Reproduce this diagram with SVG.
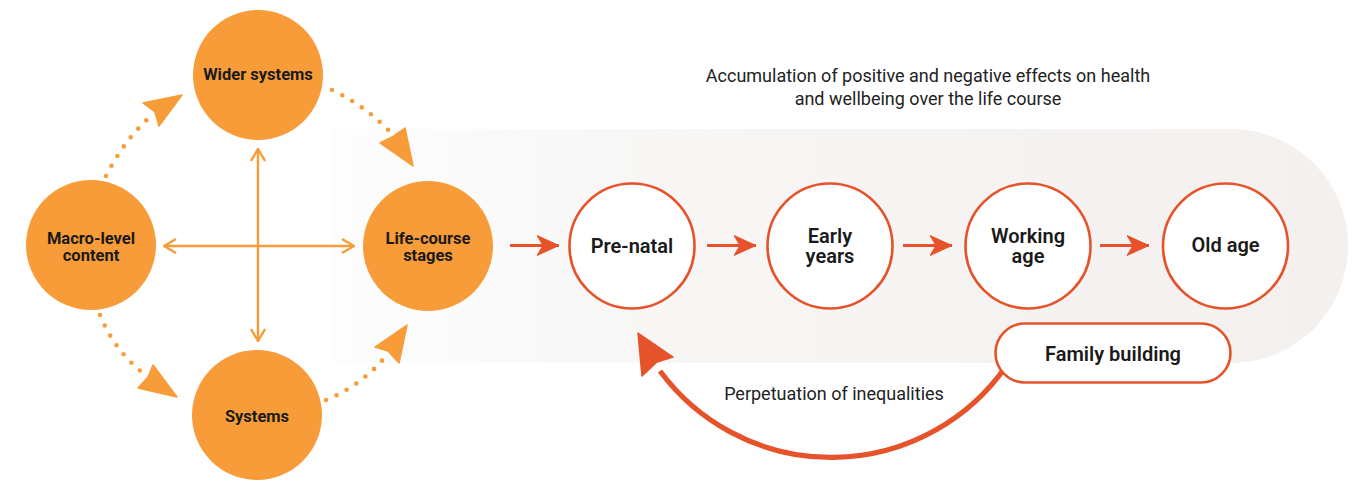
<svg xmlns="http://www.w3.org/2000/svg" width="1364" height="482" viewBox="0 0 1364 482">
  <defs>
    <linearGradient id="bandFill" x1="333" y1="0" x2="1348" y2="0" gradientUnits="userSpaceOnUse">
      <stop offset="0" stop-color="#fdfdfd"/>
      <stop offset="0.3" stop-color="#f8f7f6"/>
      <stop offset="1" stop-color="#f3f0ee"/>
    </linearGradient>
    <marker id="chevron" viewBox="0 0 14 16" refX="13" refY="8" markerWidth="14" markerHeight="16" markerUnits="userSpaceOnUse" orient="auto-start-reverse">
      <path d="M1,1 L13,8 L1,15" fill="none" stroke="#f79c38" stroke-width="2.4" stroke-linejoin="miter"/>
    </marker>
    <marker id="redHead" viewBox="0 0 24 22" refX="22" refY="11" markerWidth="24" markerHeight="22" markerUnits="userSpaceOnUse" orient="auto">
      <path d="M0,1 L22,11 L0,21 L6,11 Z" fill="#e6532a" stroke="#e6532a" stroke-width="1" stroke-linejoin="round"/>
    </marker>
  </defs>
  <style>
    .txt { font-family: Roboto, "Liberation Sans", sans-serif; fill: #1a1a1a; }
    .stage { fill: #f79c38; }
    .life { fill: #ffffff; stroke: #e6532a; stroke-width: 2.6; }
    .lbl-s { font-size: 16.5px; font-weight: 700; text-anchor: middle; }
    .lbl-l { font-size: 20px; font-weight: 600; text-anchor: middle; }
    .note { font-size: 18px; font-weight: 400; text-anchor: middle; fill: #222; }
    .dots { fill: none; stroke: #f79c38; stroke-width: 4.6; stroke-linecap: round; stroke-dasharray: 0 11.5; }
    .dart { fill: #f79c38; stroke: #f79c38; stroke-width: 1.5; stroke-linejoin: round; }
    .cross { fill: none; stroke: #f79c38; stroke-width: 2.4; }
    .flow { fill: none; stroke: #e6532a; stroke-width: 3.2; }
  </style>

  <rect width="1364" height="482" fill="#ffffff"/>

  <!-- pale band behind the life course -->
  <path d="M333,129 H1231 A117,117 0 0 1 1231,363 H333 Z" fill="url(#bandFill)"/>

  <text class="txt note" x="928" y="82">Accumulation of positive and negative effects on health</text>
  <text class="txt note" x="928" y="105">and wellbeing over the life course</text>

  <!-- connectors -->
  <g id="connectors">
    <!-- cross between the four system circles -->
    <line class="cross" x1="258" y1="149" x2="258" y2="341" marker-start="url(#chevron)" marker-end="url(#chevron)"/>
    <line class="cross" x1="164" y1="246" x2="354" y2="246" marker-start="url(#chevron)" marker-end="url(#chevron)"/>

    <!-- dotted loop around the circles -->
    <path class="dots" d="M106,176 Q124,140 151,116"/>
    <path class="dart" d="M182,95 L143,103 L155,112 L159,126 Z"/>

    <path class="dots" d="M332,90 Q366,106 392,134"/>
    <path class="dart" d="M413,166 L380,143 L392,137 L405,128 Z"/>

    <path class="dots" d="M100,315 Q114,350 144,374"/>
    <path class="dart" d="M177,397 L138,388 L148,377 L153,365 Z"/>

    <path class="dots" d="M326,400 Q362,385 386,356"/>
    <path class="dart" d="M407,325 L375,347 L388,351 L399,363 Z"/>

    <!-- life course flow -->
    <line class="flow" x1="510" y1="245.5" x2="559" y2="245.5" marker-end="url(#redHead)"/>
    <line class="flow" x1="707" y1="245.5" x2="756" y2="245.5" marker-end="url(#redHead)"/>
    <line class="flow" x1="903" y1="245.5" x2="952" y2="245.5" marker-end="url(#redHead)"/>
    <line class="flow" x1="1100" y1="245.5" x2="1149" y2="245.5" marker-end="url(#redHead)"/>

    <!-- feedback arc from family building back to pre-natal -->
    <path d="M1005.5,367 A213,213 0 0 1 660,371" fill="none" stroke="#e6532a" stroke-width="5.2"/>
    <path d="M638,333 L673,357 L657,362 L642,376 Z" fill="#e6532a" stroke="#e6532a" stroke-width="1.5" stroke-linejoin="round"/>
    <text class="txt note" x="834" y="400">Perpetuation of inequalities</text>
  </g>

  <g id="wider-systems">
    <circle class="stage" cx="258" cy="75" r="65"/>
    <text class="txt lbl-s" x="258" y="80">Wider systems</text>
  </g>
  <g id="macro-level-content">
    <circle class="stage" cx="91" cy="245" r="65"/>
    <text class="txt lbl-s" x="91" y="244">Macro-level</text>
    <text class="txt lbl-s" x="91" y="261">content</text>
  </g>
  <g id="life-course-stages">
    <circle class="stage" cx="428" cy="246" r="65"/>
    <text class="txt lbl-s" x="428" y="244">Life-course</text>
    <text class="txt lbl-s" x="428" y="261">stages</text>
  </g>
  <g id="systems">
    <circle class="stage" cx="257" cy="415" r="65"/>
    <text class="txt lbl-s" x="257" y="422">Systems</text>
  </g>

  <g id="pre-natal">
    <circle class="life" cx="632" cy="246" r="62.5"/>
    <text class="txt lbl-l" x="632" y="253">Pre-natal</text>
  </g>
  <g id="early-years">
    <circle class="life" cx="830" cy="246" r="62.5"/>
    <text class="txt lbl-l" x="830" y="243">Early</text>
    <text class="txt lbl-l" x="830" y="263">years</text>
  </g>
  <g id="working-age">
    <circle class="life" cx="1028" cy="246" r="62.5"/>
    <text class="txt lbl-l" x="1028" y="243">Working</text>
    <text class="txt lbl-l" x="1028" y="263">age</text>
  </g>
  <g id="old-age">
    <circle class="life" cx="1225.5" cy="246" r="62.5"/>
    <text class="txt lbl-l" x="1225.5" y="252">Old age</text>
  </g>
  <g id="family-building">
    <rect class="life" x="995.5" y="323.5" width="235" height="59" rx="29.5"/>
    <text class="txt lbl-l" x="1113" y="361">Family building</text>
  </g>
</svg>
